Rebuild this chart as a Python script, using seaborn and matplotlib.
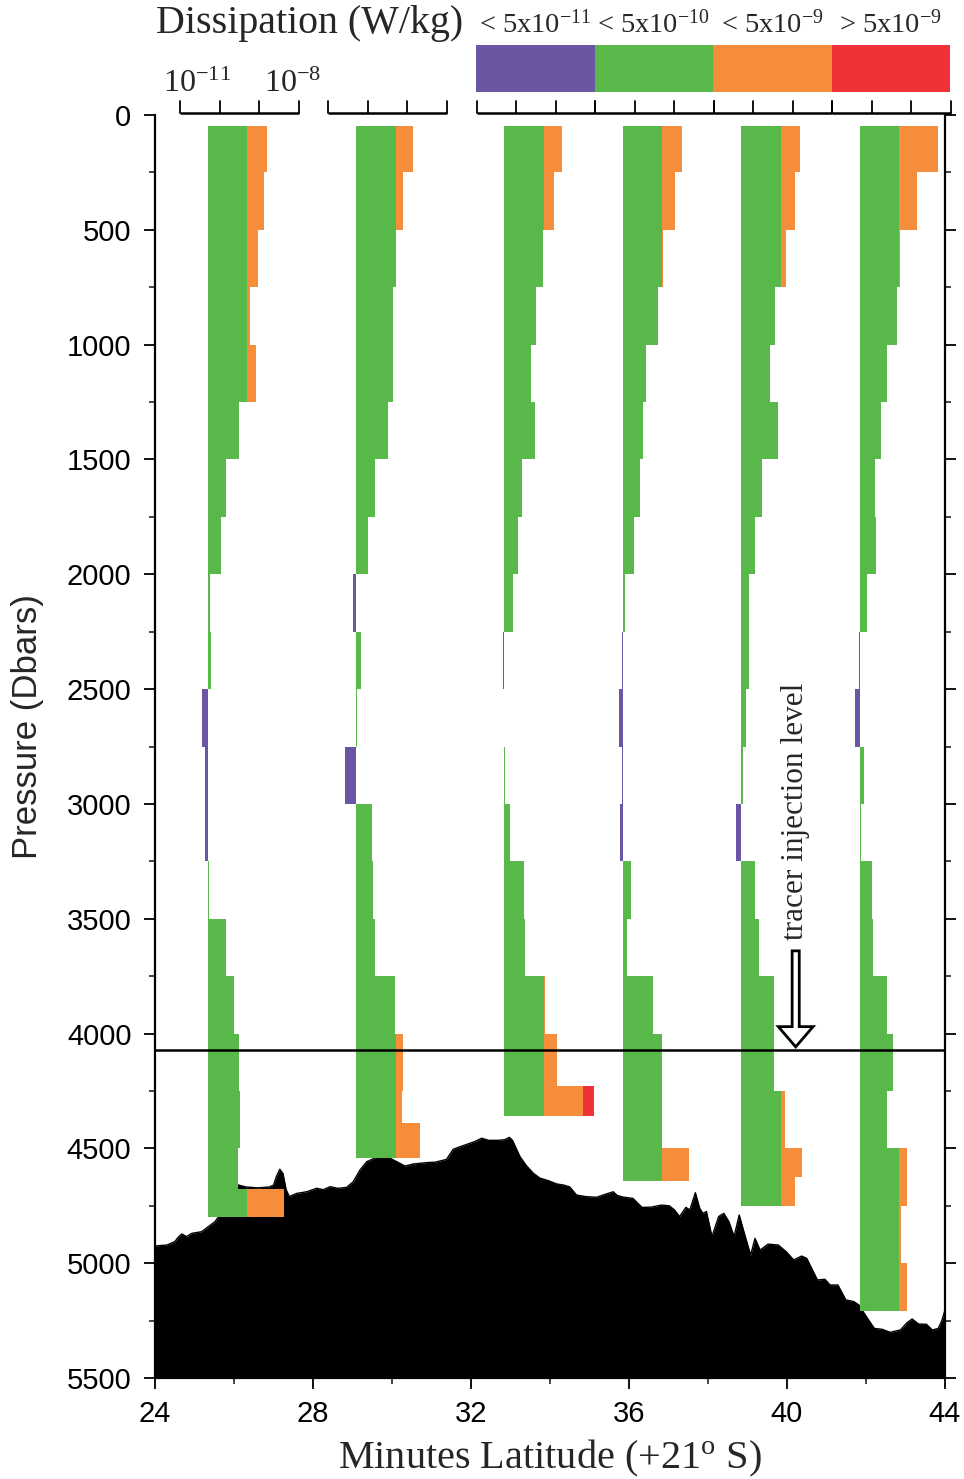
import numpy as np
import pandas as pd
import matplotlib
matplotlib.use("Agg")
import matplotlib.pyplot as plt
from matplotlib.colors import ListedColormap
from matplotlib.patches import FancyArrow
import seaborn as sns

# ---------------------------------------------------------------------------
# Data
# ---------------------------------------------------------------------------
# Latitude (minutes past 21 S) of each profile's 5x10^-11 W/kg reference line
profile_lat = [25.34, 29.09, 32.84, 35.84, 38.84, 41.84]

# Pressure bin edges (dbar) and bin-averaged dissipation (W/kg), one pair per profile
p1_edges = [50, 250, 500, 750, 1000, 1250, 1500, 1750, 2000, 2250, 2500, 2750,
            3000, 3250, 3500, 3750, 4000, 4250, 4500, 4675, 4800]
p1_eps = [1.55e-9, 1.32e-9, 9.1e-10, 5.8e-10, 8.4e-10, 3.1e-10, 1.43e-10, 1.05e-10,
          5.7e-11, 6.1e-11, 3.5e-11, 4.2e-11, 4.1e-11, 5.2e-11, 1.46e-10, 2.3e-10,
          3.0e-10, 3.2e-10, 2.95e-10, 4.2e-9]

p2_edges = [50, 250, 500, 750, 1000, 1250, 1500, 1750, 2000, 2250, 2500, 2750,
            3000, 3250, 3500, 3750, 4000, 4250, 4390, 4540]
p2_eps = [1.40e-9, 7.9e-10, 5.1e-10, 4.2e-10, 4.35e-10, 3.25e-10, 1.55e-10, 1.03e-10,
          4.2e-11, 6.8e-11, 5.2e-11, 2.6e-11, 1.27e-10, 1.35e-10, 1.52e-10, 4.8e-10,
          7.5e-10, 7.3e-10, 2.1e-9]

p3_edges = [50, 250, 500, 750, 1000, 1250, 1500, 1750, 2000, 2250, 2500, 2750,
            3000, 3250, 3500, 3750, 4000, 4230, 4360]
p3_eps = [1.43e-9, 8.9e-10, 4.8e-10, 3.2e-10, 2.34e-10, 3.0e-10, 1.43e-10, 1.09e-10,
          8.2e-11, 4.65e-11, 4.9e-11, 5.2e-11, 7.1e-11, 1.6e-10, 1.73e-10, 5.3e-10,
          1.1e-9, 9.5e-9]

p4_edges = [50, 250, 500, 750, 1000, 1250, 1500, 1750, 2000, 2250, 2500, 2750,
            3000, 3250, 3500, 3750, 4000, 4250, 4500, 4640]
p4_eps = [1.57e-9, 1.08e-9, 5.3e-10, 4.0e-10, 1.9e-10, 1.67e-10, 1.38e-10, 9.5e-11,
          5.7e-11, 4.8e-11, 4.1e-11, 4.8e-11, 4.35e-11, 8.2e-11, 6.3e-11, 3.0e-10,
          4.9e-10, 4.9e-10, 2.37e-9]

p5_edges = [50, 250, 500, 750, 1000, 1250, 1500, 1750, 2000, 2250, 2500, 2750,
            3000, 3250, 3500, 3750, 4000, 4250, 4500, 4625, 4750]
p5_eps = [1.58e-9, 1.17e-9, 6.8e-10, 3.5e-10, 2.72e-10, 4.2e-10, 1.73e-10, 1.13e-10,
          7.9e-11, 7.9e-11, 6.6e-11, 5.7e-11, 3.73e-11, 1.13e-10, 1.43e-10, 3.45e-10,
          3.45e-10, 6.5e-10, 1.74e-9, 1.17e-9]

p6_edges = [50, 250, 500, 750, 1000, 1250, 1500, 1750, 2000, 2250, 2500, 2750,
            3000, 3250, 3500, 3750, 4000, 4250, 4500, 4750, 5000, 5210]
p6_eps = [4.9e-9, 1.43e-9, 5.1e-10, 4.3e-10, 2.5e-10, 1.77e-10, 1.2e-10, 1.28e-10,
          7.7e-11, 4.7e-11, 3.73e-11, 6.6e-11, 5.4e-11, 1.0e-10, 1.09e-10, 2.5e-10,
          3.45e-10, 2.5e-10, 7.9e-10, 5.6e-10, 7.9e-10]

# Seafloor pressure (dbar) along the section
bathy_lat = [24.0, 24.3, 24.5, 24.6, 24.68, 24.8, 24.93, 25.18, 25.35, 25.52, 25.64,
             25.8, 25.95, 26.1, 26.3, 26.6, 26.9, 27.0, 27.08, 27.16, 27.24, 27.32,
             27.4, 27.59, 27.84, 28.09, 28.26, 28.43, 28.63, 28.85, 29.02, 29.19,
             29.36, 29.61, 29.8, 29.95, 30.12, 30.33, 30.54, 30.88, 31.1, 31.38,
             31.55, 31.72, 31.97, 32.1, 32.27, 32.45, 32.7, 32.86, 32.97, 33.05,
             33.24, 33.4, 33.58, 33.75, 33.95, 34.17, 34.35, 34.5, 34.67, 34.9,
             35.18, 35.4, 35.6, 35.7, 35.85, 36.1, 36.33, 36.56, 36.82, 37.02,
             37.15, 37.28, 37.44, 37.54, 37.68, 37.79, 37.87, 37.96, 38.1, 38.27,
             38.4, 38.53, 38.66, 38.79, 38.92, 39.08, 39.19, 39.32, 39.52, 39.78,
             39.98, 40.17, 40.37, 40.5, 40.77, 40.96, 41.09, 41.29, 41.49, 41.69,
             41.82, 42.01, 42.21, 42.41, 42.61, 42.87, 43.04, 43.17, 43.33, 43.53,
             43.68, 43.83, 43.92, 44.0]
bathy_p = [4925, 4921, 4906, 4885, 4873, 4884, 4870, 4863, 4841, 4819, 4790,
           4730, 4680, 4659, 4668, 4672, 4668, 4660, 4620, 4591, 4610, 4680,
           4710, 4696, 4689, 4674, 4680, 4667, 4674, 4670, 4645, 4594,
           4558, 4539, 4536, 4543, 4558, 4577, 4568, 4562, 4560, 4548,
           4504, 4493, 4478, 4470, 4456, 4465, 4465, 4462, 4452, 4465,
           4536, 4575, 4609, 4630, 4640, 4655, 4660, 4668, 4703, 4710,
           4713, 4700, 4689, 4705, 4712, 4718, 4757, 4756, 4747, 4750,
           4768, 4797, 4757, 4768, 4693, 4761, 4783, 4775, 4884, 4797,
           4783, 4819, 4884, 4790, 4870, 4965, 4892, 4943, 4917, 4921,
           4950, 4986, 4969, 4979, 5073, 5070, 5095, 5095, 5160, 5167,
           5182, 5233, 5284, 5288, 5301, 5291, 5259, 5243, 5265, 5266,
           5291, 5284, 5250, 5204]

tracer_level = 4070

class_labels = ["< 5x10$^{-11}$", "< 5x10$^{-10}$", "< 5x10$^{-9}$", "> 5x10$^{-9}$"]
class_colors = ["#6B56A3", "#58B94A", "#F58D3B", "#EE3237"]
eps_ref = 5e-11

x_ticks = [24, 28, 32, 36, 40, 44]
x_minor = [26, 30, 34, 38, 42]
y_ticks = [0, 500, 1000, 1500, 2000, 2500, 3000, 3500, 4000, 4500, 5000, 5500]
y_minor = [250, 750, 1250, 1750, 2250, 2750, 3250, 3750, 4250, 4750, 5250]

profiles = [(profile_lat[0], p1_edges, p1_eps), (profile_lat[1], p2_edges, p2_eps),
            (profile_lat[2], p3_edges, p3_eps), (profile_lat[3], p4_edges, p4_eps),
            (profile_lat[4], p5_edges, p5_eps), (profile_lat[5], p6_edges, p6_eps)]

# ---------------------------------------------------------------------------
# Split every bin into coloured segments: one minute of latitude = one decade
# ---------------------------------------------------------------------------
rows = []
for lat0, edges, eps in profiles:
    for top, bot, e in zip(edges[:-1], edges[1:], eps):
        d = np.log10(e / eps_ref)
        if d < 0:
            rows.append(dict(left=lat0 + d, width=-d, top=top, bot=bot, cls=0))
        else:
            for k in range(3):
                hi = d if k == 2 else min(d, k + 1)
                seg = hi - k
                if seg > 0:
                    rows.append(dict(left=lat0 + k, width=seg, top=top, bot=bot, cls=k + 1))
seg_df = pd.DataFrame(rows)
seg_df["mid"] = (seg_df["top"] + seg_df["bot"]) / 2
seg_df["height"] = seg_df["bot"] - seg_df["top"]

# ---------------------------------------------------------------------------
# Figure
# ---------------------------------------------------------------------------
sns.set_theme(style="ticks")
plt.rcParams["font.family"] = ["Liberation Sans", "DejaVu Sans"]
plt.rcParams["mathtext.fontset"] = "custom"
plt.rcParams["mathtext.rm"] = "Liberation Serif"
plt.rcParams["mathtext.it"] = "Liberation Serif:italic"
plt.rcParams["mathtext.bf"] = "Liberation Serif:bold"
SERIF = ["Liberation Serif", "DejaVu Serif"]

W, H = 964, 1479
fig = plt.figure(figsize=(W / 100, H / 100), dpi=100)
fig.patch.set_facecolor("white")

ax = fig.add_axes([155 / W, 1 - 1378 / H, 790 / W, 1263 / H])
ax.set_facecolor("white")

# seafloor
ax.fill_between(bathy_lat, bathy_p, 5500, color="black", lw=0, zorder=1)
sns.lineplot(x=bathy_lat, y=bathy_p, color="black", lw=1.0, ax=ax, zorder=1)

# dissipation bars
for cls, grp in seg_df.groupby("cls"):
    ax.barh(grp["mid"], grp["width"], left=grp["left"], height=grp["height"],
            color=class_colors[cls], linewidth=0, align="center", zorder=2)

# tracer injection level
ax.axhline(tracer_level, color="black", lw=1.8, zorder=3)
arrow_x = 40.22
ax.add_patch(FancyArrow(arrow_x, tracer_level - 430, 0, 418, width=0.18,
                        head_width=0.88, head_length=88, length_includes_head=True,
                        facecolor="white", edgecolor="black", lw=2.0, zorder=4))
ax.text(arrow_x, tracer_level - 478, "tracer injection level", rotation=90,
        ha="center", va="bottom", fontsize=22.5, family=SERIF, zorder=4)

# log-scale bars above each profile (10^-11 ... 10^-8)
y_line, y_tick = -9, -62
for lat0 in profile_lat:
    ref = lat0 - np.log10(eps_ref / 1e-11)
    ax.plot([ref, ref + 3], [y_line, y_line], color="black", lw=1.8,
            solid_capstyle="butt", clip_on=False, zorder=5)
    for k in range(4):
        ax.plot([ref + k, ref + k], [y_line, y_tick], color="black", lw=1.3,
                clip_on=False, zorder=5)
ref0 = profile_lat[0] - np.log10(eps_ref / 1e-11)
ax.text(ref0 + 0.42, -100, "10$^{-11}$", ha="center", va="baseline",
        fontsize=23, family=SERIF, clip_on=False)
ax.text(ref0 + 2.85, -100, "10$^{-8}$", ha="center", va="baseline",
        fontsize=23, family=SERIF, clip_on=False)

# axes styling
ax.set_xlim(24, 44)
ax.set_ylim(5500, 0)
ax.set_xticks(x_ticks)
ax.set_xticks(x_minor, minor=True)
ax.set_yticks(y_ticks)
ax.set_yticks(y_minor, minor=True)
ax.set_xticklabels([str(t) for t in x_ticks])
ax.set_yticklabels([str(t) for t in y_ticks])
ax.tick_params(axis="both", which="major", length=8, width=1.3, direction="out",
               labelsize=21, colors="black")
ax.tick_params(axis="both", which="minor", length=4, width=1.2, direction="out")
ax.tick_params(axis="x", which="both", top=False, bottom=True, pad=8)
ax.tick_params(axis="y", which="both", left=True, right=True, labelright=False, pad=9)
ax.spines["top"].set_visible(False)
for s in ("left", "right", "bottom"):
    ax.spines[s].set_linewidth(1.6)
    ax.spines[s].set_color("black")
ax.set_xlabel("")
ax.set_ylabel("")

fig.text(550 / W, 1 - 1468 / H, "Minutes Latitude (+21$^{\\mathrm{o}}$ S)",
         ha="center", va="baseline", fontsize=29, family=SERIF)
fig.text(28 / W, 1 - 727 / H, "Pressure (Dbars)", rotation=90, ha="center",
         va="center", fontsize=25)

# colour key
cax = fig.add_axes([476 / W, 1 - 92 / H, 474 / W, 47 / H])
sns.heatmap(np.array([[0, 1, 2, 3]]), cmap=ListedColormap(class_colors), vmin=0, vmax=3,
            cbar=False, ax=cax, xticklabels=False, yticklabels=False, linewidths=0)
cax.set_xticks([])
cax.set_yticks([])
for i, lab in enumerate(class_labels):
    cax.text(i + 0.5, 1.26, lab, transform=cax.get_xaxis_transform(), ha="center",
             va="baseline", fontsize=20.5, family=SERIF)
fig.text(156 / W, 1 - 33 / H, "Dissipation (W/kg)", ha="left", va="baseline",
         fontsize=28.7, family=SERIF)

fig.savefig("out.png", dpi=100, facecolor="white")
